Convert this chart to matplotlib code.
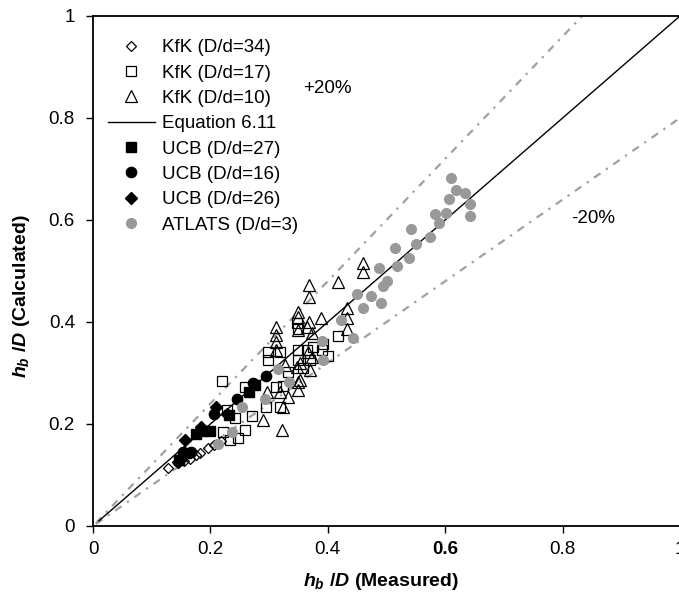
import matplotlib
matplotlib.use("Agg")
import matplotlib.pyplot as plt
from matplotlib.lines import Line2D
import numpy as np

plt.rcParams['font.family'] = ['Liberation Sans', 'DejaVu Sans']
plt.rcParams['mathtext.fontset'] = 'custom'
plt.rcParams['mathtext.it'] = 'Liberation Sans:italic:bold'
plt.rcParams['mathtext.rm'] = 'Liberation Sans:bold'
plt.rcParams['mathtext.bf'] = 'Liberation Sans:bold'

# ---- data (measured, calculated) ----
kfk34_x = [0.128, 0.145, 0.155, 0.165, 0.175, 0.182, 0.196, 0.206, 0.218]
kfk34_y = [0.114, 0.124, 0.127, 0.131, 0.139, 0.143, 0.153, 0.159, 0.167]

kfk17_x = [0.220, 0.298, 0.298, 0.319, 0.259, 0.295, 0.319, 0.271, 0.242, 0.259,
           0.247, 0.233, 0.228, 0.221, 0.332, 0.348, 0.349, 0.312, 0.324, 0.417,
           0.392, 0.400, 0.390, 0.349, 0.365, 0.349, 0.358, 0.375, 0.370]
kfk17_y = [0.284, 0.341, 0.325, 0.341, 0.273, 0.233, 0.233, 0.216, 0.212, 0.188,
           0.173, 0.169, 0.227, 0.184, 0.302, 0.398, 0.386, 0.273, 0.275, 0.373,
           0.357, 0.333, 0.345, 0.345, 0.345, 0.325, 0.310, 0.351, 0.325]

kfk10_x = [0.460, 0.460, 0.417, 0.368, 0.368, 0.349, 0.349, 0.349, 0.368, 0.388,
           0.433, 0.433, 0.433, 0.373, 0.373, 0.353, 0.349, 0.332, 0.322, 0.312,
           0.312, 0.312, 0.312, 0.327, 0.348, 0.366, 0.365, 0.296, 0.319, 0.324,
           0.290, 0.353, 0.349, 0.370]
kfk10_y = [0.516, 0.498, 0.478, 0.473, 0.449, 0.420, 0.410, 0.384, 0.400, 0.408,
           0.427, 0.408, 0.386, 0.378, 0.331, 0.320, 0.282, 0.253, 0.188, 0.390,
           0.375, 0.361, 0.345, 0.316, 0.312, 0.341, 0.390, 0.263, 0.263, 0.233,
           0.208, 0.286, 0.267, 0.306]

ucb27_x = [0.266, 0.276, 0.232, 0.199, 0.184, 0.175, 0.158, 0.147]
ucb27_y = [0.263, 0.276, 0.218, 0.186, 0.186, 0.180, 0.143, 0.129]

ucb16_x = [0.295, 0.273, 0.245, 0.206, 0.167, 0.153, 0.152]
ucb16_y = [0.294, 0.280, 0.249, 0.220, 0.145, 0.145, 0.135]

ucb26_x = [0.210, 0.228, 0.184, 0.157, 0.145]
ucb26_y = [0.233, 0.220, 0.194, 0.169, 0.125]

atlats_x = [0.610, 0.618, 0.634, 0.642, 0.642, 0.606, 0.601, 0.583, 0.589, 0.542,
            0.574, 0.550, 0.538, 0.518, 0.514, 0.487, 0.501, 0.494, 0.450, 0.474,
            0.491, 0.460, 0.422, 0.443, 0.390, 0.392, 0.334, 0.315, 0.293, 0.254,
            0.237, 0.213]
atlats_y = [0.682, 0.659, 0.653, 0.631, 0.608, 0.641, 0.614, 0.612, 0.594, 0.582,
            0.567, 0.553, 0.525, 0.510, 0.545, 0.506, 0.480, 0.471, 0.455, 0.451,
            0.437, 0.427, 0.404, 0.369, 0.363, 0.325, 0.282, 0.308, 0.249, 0.233,
            0.184, 0.161]

eq_x = [0.01, 1.0]
plus20_factor = 1.2
minus20_factor = 0.8

labels = ["KfK (D/d=34)", "KfK (D/d=17)", "KfK (D/d=10)", "Equation 6.11",
          "UCB (D/d=27)", "UCB (D/d=16)", "UCB (D/d=26)", "ATLATS (D/d=3)"]

W, H = 679, 601
fig = plt.figure(figsize=(W / 100, H / 100), dpi=100)
ax = fig.add_axes([93 / W, 75 / H, 587 / W, 510 / H])
ax.set_xlim(0, 1)
ax.set_ylim(0, 1)

gray = '#999999'
xx = np.array([0.005, 1.0])
ax.plot(xx, plus20_factor * xx, color='#a0a0a0', lw=1.6, dashes=(3.5, 3, 1, 3), zorder=1)
ax.plot(xx, minus20_factor * xx, color='#a0a0a0', lw=1.6, dashes=(3.5, 3, 1, 3), zorder=1)

ax.plot(kfk34_x, kfk34_y, linestyle='none', marker='D', ms=4.8, mfc='none',
        mec='black', mew=0.9, zorder=3)
ax.plot(kfk17_x, kfk17_y, linestyle='none', marker='s', ms=7.2, mfc='none',
        mec='black', mew=0.9, zorder=3)
ax.plot(kfk10_x, kfk10_y, linestyle='none', marker='^', ms=8.3, mfc='none',
        mec='black', mew=0.9, zorder=3)
ax.plot(eq_x, eq_x, color='black', lw=1.0, zorder=4)
ax.plot(ucb27_x, ucb27_y, linestyle='none', marker='s', ms=7, mfc='black',
        mec='black', zorder=5)
ax.plot(ucb16_x, ucb16_y, linestyle='none', marker='o', ms=7.4, mfc='black',
        mec='black', zorder=5)
ax.plot(ucb26_x, ucb26_y, linestyle='none', marker='D', ms=6, mfc='black',
        mec='black', zorder=5)
ax.plot(atlats_x, atlats_y, linestyle='none', marker='o', ms=7, mfc=gray,
        mec=gray, zorder=6)

handles = [
    Line2D([], [], linestyle='none', marker='D', ms=4.8, mfc='none', mec='black', mew=0.9),
    Line2D([], [], linestyle='none', marker='s', ms=7.2, mfc='none', mec='black', mew=0.9),
    Line2D([], [], linestyle='none', marker='^', ms=8, mfc='none', mec='black', mew=0.9),
    Line2D([], [], color='black', lw=1.0),
    Line2D([], [], linestyle='none', marker='s', ms=7, mfc='black', mec='black'),
    Line2D([], [], linestyle='none', marker='o', ms=7.4, mfc='black', mec='black'),
    Line2D([], [], linestyle='none', marker='D', ms=6, mfc='black', mec='black'),
    Line2D([], [], linestyle='none', marker='o', ms=7, mfc=gray, mec=gray),
]
leg = ax.legend(handles, labels, loc='upper left', frameon=False,
                bbox_to_anchor=(108 / W, 1 - 39 / H), bbox_transform=fig.transFigure,
                borderpad=0, borderaxespad=0, fontsize=13.5, handlelength=2.5,
                handletextpad=0.4, labelspacing=0.44)

ax.text(0.399, 0.858, "+20%", fontsize=13.5, ha='center', va='center')
ax.text(0.852, 0.603, "-20%", fontsize=13.5, ha='center', va='center')

ticks = [0, 0.2, 0.4, 0.6, 0.8, 1]
ticklabels = ["0", "0.2", "0.4", "0.6", "0.8", "1"]
ax.set_xticks(ticks)
ax.set_xticklabels(ticklabels)
ax.set_yticks(ticks)
ax.set_yticklabels(ticklabels)
ax.tick_params(axis='both', direction='out', length=5, width=1.0, labelsize=13.5)
ax.tick_params(axis='x', pad=6)
ax.tick_params(axis='y', pad=8)
ax.get_xticklabels()[3].set_fontweight('bold')

for s in ['left', 'bottom', 'top', 'right']:
    ax.spines[s].set_linewidth(1.3)

ax.set_xlabel(r"$h_b$ /$D$ (Measured)", fontsize=14, fontweight='bold')
ax.set_ylabel(r"$h_b$ /$D$ (Calculated)", fontsize=14, fontweight='bold')
ax.xaxis.set_label_coords(0.491, -0.088)
ax.yaxis.set_label_coords(-0.104, 0.45)

fig.savefig("out.png", dpi=100)
